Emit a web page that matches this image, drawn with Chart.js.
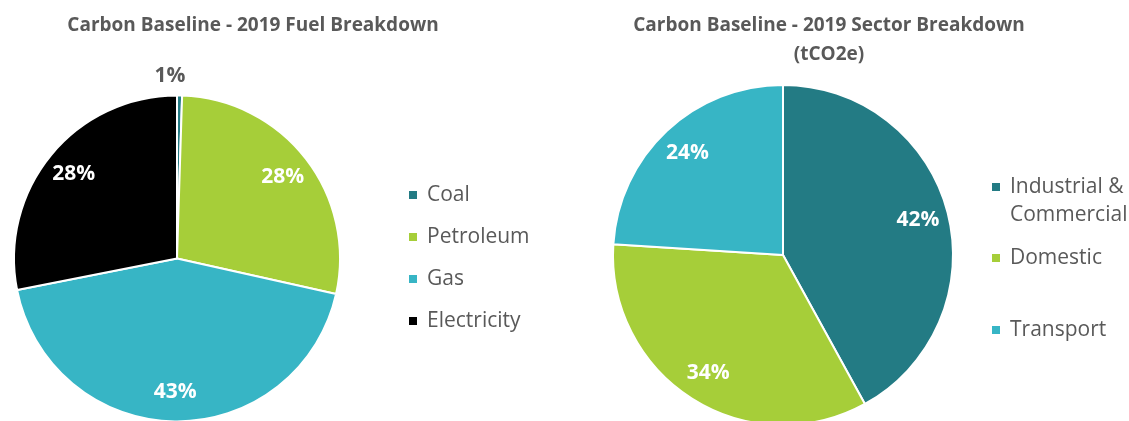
<!DOCTYPE html>
<html>
<head>
<meta charset="utf-8">
<script src="https://cdn.jsdelivr.net/npm/chart.js@4.4.1/dist/chart.umd.min.js"></script>
<style>
  html, body { margin: 0; padding: 0; background: #fff; overflow: hidden; }
  #wrap { position: relative; width: 1129px; height: 421px; overflow: hidden; }
  canvas { position: absolute; top: 0; }
  #fuelChart { left: 0; }
  #sectorChart { left: 560px; }
</style>
</head>
<body>
<div id="wrap">
  <canvas id="fuelChart" width="560" height="421"></canvas>
  <canvas id="sectorChart" width="569" height="430"></canvas>
</div>
<script>
// data (percent of total)
const fuelLabels = ["Coal", "Petroleum", "Gas", "Electricity"];
const fuelValues = [0.5, 28, 43.4, 28.1];
const fuelColors = ["#237b84", "#a6ce39", "#37b5c5", "#000000"];

const sectorLabels = [["Industrial &", "Commercial"], "Domestic", "Transport"];
const sectorValues = [42, 34, 24];
const sectorColors = ["#237b84", "#a6ce39", "#37b5c5"];

const fuelTitle = ["Carbon Baseline - 2019 Fuel Breakdown"];
const sectorTitle = ["Carbon Baseline - 2019 Sector Breakdown", "(tCO2e)"];

const GREY = "#595959";
const FONT = "'Open Sans', 'DejaVu Sans', sans-serif";

// draws title, legend and the percentage labels on top of the pie
const overlay = {
  id: "overlay",
  afterDraw(chart, args, opts) {
    const ctx = chart.ctx;
    ctx.save();

    // title
    ctx.fillStyle = GREY;
    ctx.font = "bold 19px " + FONT;
    ctx.textAlign = "center";
    ctx.textBaseline = "middle";
    opts.title.forEach((line, i) => {
      ctx.fillText(line, opts.titleX, opts.titleY + i * opts.titleLine);
    });

    // legend
    const ds = chart.data.datasets[0];
    ctx.font = "21px " + FONT;
    ctx.textAlign = "left";
    chart.data.labels.forEach((lab, i) => {
      const y = opts.legendY[i];
      ctx.fillStyle = ds.backgroundColor[i];
      ctx.fillRect(opts.legendX, y - 4, 8, 8);
      ctx.fillStyle = GREY;
      const lines = Array.isArray(lab) ? lab : [lab];
      lines.forEach((t, j) => ctx.fillText(t, opts.legendX + 18, y + j * 28));
    });

    // percentage labels
    const meta = chart.getDatasetMeta(0);
    const total = ds.data.reduce((a, b) => a + b, 0);
    ctx.font = "bold 21px " + FONT;
    ctx.textAlign = "center";
    meta.data.forEach((arc, i) => {
      const p = arc.getProps(["x", "y", "startAngle", "endAngle", "outerRadius"], true);
      const pct = Math.round(ds.data[i] * 100 / total);
      const mid = (p.startAngle + p.endAngle) / 2;
      const small = ds.data[i] / total < 0.03;
      const d = small ? p.outerRadius + 20 : p.outerRadius * 0.82;
      let x = p.x + Math.cos(mid) * d;
      const y = p.y + Math.sin(mid) * d;
      if (small) x -= 10;
      ctx.fillStyle = small ? GREY : "#ffffff";
      ctx.fillText(pct + "%", x, y);
    });
    ctx.restore();
  }
};

function makePie(id, labels, values, colors, radius, padding, overlayOpts) {
  return new Chart(document.getElementById(id), {
    type: "pie",
    data: {
      labels: labels,
      datasets: [{
        data: values,
        backgroundColor: colors,
        borderColor: "#ffffff",
        borderWidth: 2,
      }],
    },
    options: {
      responsive: false,
      animation: false,
      radius: radius,
      layout: { padding: padding },
      plugins: {
        legend: { display: false },
        tooltip: { enabled: false },
        overlay: overlayOpts,
      },
    },
    plugins: [overlay],
  });
}

makePie("fuelChart", fuelLabels, fuelValues, fuelColors, 163,
  { left: 0, right: 206, top: 96, bottom: 0 },
  { title: fuelTitle, titleX: 253, titleY: 26, titleLine: 29,
    legendX: 409, legendY: [195, 237, 279, 321] });

makePie("sectorChart", sectorLabels, sectorValues, sectorColors, 170,
  { left: 0, right: 123, top: 80, bottom: 0 },
  { title: sectorTitle, titleX: 269, titleY: 26, titleLine: 29,
    legendX: 432, legendY: [187, 258, 330] });
</script>
</body>
</html>
